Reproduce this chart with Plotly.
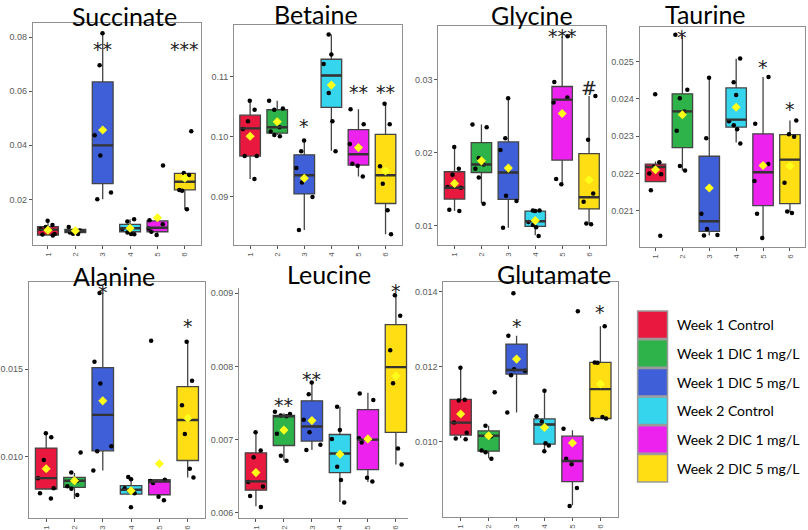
import plotly.graph_objects as go

# ---------------- data ----------------
group_ticks = ["1", "2", "3", "4", "5", "6"]
group_names = ["Week 1 Control", "Week 1 DIC 1 mg/L", "Week 1 DIC 5 mg/L",
               "Week 2 Control", "Week 2 DIC 1 mg/L", "Week 2 DIC 5 mg/L"]
group_colors = ["#E8183F", "#2DB34A", "#3F5FD8", "#35D5EE", "#EE22EE", "#FFDF14"]

# Succinate
succinate_q1 = [0.0068, 0.0077, 0.0258, 0.0080, 0.0080, 0.0235]
succinate_median = [0.0088, 0.0083, 0.0400, 0.0093, 0.0095, 0.0265]
succinate_q3 = [0.0099, 0.0089, 0.0635, 0.0107, 0.0120, 0.0296]
succinate_lo = [0.0066, 0.0072, 0.0200, 0.0068, 0.0068, 0.0163]
succinate_hi = [0.0121, 0.0098, 0.0815, 0.0126, 0.0123, 0.0298]
succinate_mean = [0.0086, 0.0084, 0.0457, 0.0093, 0.0132, 0.0278]
succinate_points = [
    [0.0066, 0.0070, 0.0072, 0.0090, 0.0098, 0.0105, 0.0121],
    [0.0098, 0.0085, 0.0083, 0.0080, 0.0077, 0.0073, 0.0072],
    [0.0815, 0.0697, 0.0437, 0.0362, 0.0225, 0.0200],
    [0.0126, 0.0118, 0.0095, 0.0090, 0.0077, 0.0072, 0.0071],
    [0.0325, 0.0123, 0.0108, 0.0092, 0.0080, 0.0068],
    [0.0452, 0.0298, 0.0290, 0.0235, 0.0232, 0.0163],
]
succinate_sig = [(3, "**", 0.0765), (6, "***", 0.0765)]

# Betaine
betaine_q1 = [0.0968, 0.1006, 0.0905, 0.1049, 0.0953, 0.0889]
betaine_median = [0.1014, 0.1016, 0.0936, 0.1102, 0.0971, 0.0936]
betaine_q3 = [0.1036, 0.1045, 0.0970, 0.1129, 0.1012, 0.1004]
betaine_lo = [0.0930, 0.1003, 0.0845, 0.0977, 0.0934, 0.0838]
betaine_hi = [0.1060, 0.1060, 0.0994, 0.1170, 0.1046, 0.1055]
betaine_mean = [0.1001, 0.1025, 0.0931, 0.1086, 0.0982, 0.0943]
betaine_points = [
    [0.1060, 0.1045, 0.1026, 0.1013, 0.0968, 0.0968, 0.0930],
    [0.1060, 0.1047, 0.1045, 0.1016, 0.1009, 0.1003, 0.1001],
    [0.0994, 0.0976, 0.0948, 0.0924, 0.0900, 0.0845],
    [0.1170, 0.1137, 0.1121, 0.1073, 0.1026, 0.0976],
    [0.1046, 0.1021, 0.0988, 0.0955, 0.0952, 0.0934],
    [0.1055, 0.1021, 0.0951, 0.0922, 0.0878, 0.0838],
]
betaine_sig = [(3, "*", 0.1021), (5, "**", 0.1078), (6, "**", 0.1078)]

# Glycine
glycine_q1 = [0.01365, 0.0173, 0.0136, 0.0099, 0.0190, 0.0123]
glycine_median = [0.0152, 0.0184, 0.0173, 0.0106, 0.0273, 0.0139]
glycine_q3 = [0.0174, 0.0214, 0.0215, 0.0120, 0.0291, 0.0199]
glycine_lo = [0.0120, 0.0131, 0.0097, 0.0087, 0.0156, 0.0103]
glycine_hi = [0.0208, 0.0239, 0.0275, 0.0121, 0.0360, 0.0278]
glycine_mean = [0.0158, 0.0189, 0.0179, 0.0107, 0.0254, 0.0163]
glycine_points = [
    [0.0208, 0.0178, 0.0170, 0.0153, 0.0152, 0.0122, 0.0120],
    [0.0239, 0.0235, 0.0193, 0.0184, 0.0178, 0.0166, 0.0130],
    [0.0275, 0.0220, 0.0204, 0.0141, 0.0134, 0.0097],
    [0.0121, 0.0120, 0.0121, 0.0105, 0.0101, 0.0098, 0.0086],
    [0.0360, 0.0297, 0.0276, 0.0269, 0.0164, 0.0157],
    [0.0278, 0.0218, 0.0144, 0.0133, 0.0103, 0.0102],
]
glycine_sig = [(5, "***", 0.0363), (6, "#", 0.0291)]

# Taurine
taurine_q1 = [0.02178, 0.02269, 0.02045, 0.02324, 0.02114, 0.02119]
taurine_median = [0.02217, 0.02366, 0.02072, 0.02344, 0.02203, 0.02237]
taurine_q3 = [0.02225, 0.02413, 0.02246, 0.02429, 0.02306, 0.02304]
taurine_lo = [0.02178, 0.02208, 0.02034, 0.02283, 0.02030, 0.02096]
taurine_hi = [0.02232, 0.02571, 0.02455, 0.02507, 0.02458, 0.02342]
taurine_mean = [0.02210, 0.02357, 0.02161, 0.02377, 0.02221, 0.02220]
taurine_points = [
    [0.02412, 0.02230, 0.02218, 0.02200, 0.02198, 0.02155, 0.02033],
    [0.02571, 0.02424, 0.02401, 0.02366, 0.02314, 0.02220, 0.02208],
    [0.02456, 0.02294, 0.02092, 0.02051, 0.02035, 0.02034],
    [0.02508, 0.02444, 0.02410, 0.02340, 0.02329, 0.02318, 0.02280],
    [0.02458, 0.02333, 0.02225, 0.02180, 0.02092, 0.02027],
    [0.02342, 0.02305, 0.02298, 0.02175, 0.02098, 0.02094],
]
taurine_sig = [(2, "*", 0.02571), (5, "*", 0.0249), (6, "*", 0.02377)]

# Alanine
alanine_q1 = [0.00814, 0.00823, 0.01032, 0.00785, 0.00781, 0.00977]
alanine_median = [0.00876, 0.00861, 0.01238, 0.00810, 0.00857, 0.01209]
alanine_q3 = [0.01048, 0.00880, 0.01508, 0.00833, 0.00867, 0.01399]
alanine_lo = [0.00814, 0.00757, 0.00920, 0.00785, 0.00781, 0.00880]
alanine_hi = [0.01133, 0.00905, 0.01937, 0.00882, 0.00867, 0.01656]
alanine_mean = [0.00930, 0.00861, 0.01318, 0.00804, 0.00958, 0.01219]
alanine_points = [
    [0.01133, 0.01110, 0.00980, 0.00876, 0.00818, 0.00790, 0.00760],
    [0.01023, 0.00908, 0.00860, 0.00830, 0.00815, 0.00780],
    [0.01935, 0.01542, 0.01418, 0.01058, 0.01030, 0.00920],
    [0.00882, 0.00870, 0.00818, 0.00806, 0.00800, 0.00790, 0.00710],
    [0.01662, 0.00867, 0.00860, 0.00848, 0.00770, 0.00750],
    [0.01656, 0.01433, 0.01293, 0.01128, 0.00930, 0.00880],
]
alanine_sig = [(3, "*", 0.01954), (6, "*", 0.01757)]

# Leucine
leucine_q1 = [0.00631, 0.00692, 0.00698, 0.00655, 0.00659, 0.00710]
leucine_median = [0.00643, 0.00732, 0.00718, 0.00681, 0.00700, 0.00799]
leucine_q3 = [0.00682, 0.00733, 0.00753, 0.00707, 0.00741, 0.00857]
leucine_lo = [0.00609, 0.00671, 0.00686, 0.00615, 0.00642, 0.00666]
leucine_hi = [0.00710, 0.00736, 0.00777, 0.00745, 0.00764, 0.00898]
leucine_mean = [0.00655, 0.00713, 0.00726, 0.00680, 0.00701, 0.00787]
leucine_points = [
    [0.00710, 0.00685, 0.00676, 0.00642, 0.00636, 0.00623, 0.00608],
    [0.00738, 0.00735, 0.00733, 0.00732, 0.00708, 0.00678, 0.00671],
    [0.00778, 0.00762, 0.00727, 0.00710, 0.00693, 0.00686],
    [0.00745, 0.00713, 0.00701, 0.00663, 0.00645, 0.00614],
    [0.00763, 0.00754, 0.00702, 0.00696, 0.00648, 0.00643],
    [0.00897, 0.00869, 0.00822, 0.00777, 0.00688, 0.00666],
]
leucine_sig = [(2, "**", 0.0075), (3, "**", 0.00785), (6, "*", 0.00905)]

# Glutamate
glutamate_q1 = [0.01018, 0.00975, 0.01180, 0.00994, 0.00894, 0.01062]
glutamate_median = [0.01051, 0.01016, 0.01191, 0.01046, 0.00949, 0.01140]
glutamate_q3 = [0.01113, 0.01029, 0.01260, 0.01061, 0.01015, 0.01211]
glutamate_lo = [0.01010, 0.00956, 0.01078, 0.00976, 0.00831, 0.01062]
glutamate_hi = [0.01198, 0.01043, 0.01282, 0.01136, 0.01031, 0.01307]
glutamate_mean = [0.01074, 0.01016, 0.01220, 0.01038, 0.00997, 0.01154]
glutamate_points = [
    [0.01197, 0.01112, 0.01110, 0.01051, 0.01024, 0.01009, 0.01007],
    [0.01132, 0.01043, 0.01015, 0.00977, 0.00972, 0.00955],
    [0.01395, 0.01282, 0.01193, 0.01189, 0.01177, 0.01078],
    [0.01136, 0.01068, 0.01054, 0.00996, 0.00990, 0.00975],
    [0.01347, 0.01035, 0.00955, 0.00940, 0.00877, 0.00829],
    [0.01307, 0.01211, 0.01210, 0.01066, 0.01062, 0.01060],
]
glutamate_sig = [(3, "*", 0.01313), (6, "*", 0.01351)]

# ---------------- layout / style ----------------
FW, FH = 808, 530


def fx(px):
    return px / FW


def fy(py):
    return 1 - py / FH


panels = [
    dict(title="Succinate", q1=succinate_q1, med=succinate_median, q3=succinate_q3,
         lo=succinate_lo, hi=succinate_hi, mean=succinate_mean, pts=succinate_points,
         sig=succinate_sig, frame=(30, 199, 23, 245), xr=(0.45, 6.6), yr=(0.0031, 0.0853),
         ticks=[0.02, 0.04, 0.06, 0.08], fmt=".2f", tpos=(122, 16), mirror=True),
    dict(title="Betaine", q1=betaine_q1, med=betaine_median, q3=betaine_q3,
         lo=betaine_lo, hi=betaine_hi, mean=betaine_mean, pts=betaine_points,
         sig=betaine_sig, frame=(232, 400, 25, 245), xr=(0.41, 6.59), yr=(0.082, 0.1186),
         ticks=[0.09, 0.10, 0.11], fmt=".2f", tpos=(314, 14), mirror=True),
    dict(title="Glycine", q1=glycine_q1, med=glycine_median, q3=glycine_q3,
         lo=glycine_lo, hi=glycine_hi, mean=glycine_mean, pts=glycine_points,
         sig=glycine_sig, frame=(437, 605, 26, 245), xr=(0.4, 6.62), yr=(0.00735, 0.0374),
         ticks=[0.01, 0.02, 0.03], fmt=".2f", tpos=(531, 15), mirror=True),
    dict(title="Taurine", q1=taurine_q1, med=taurine_median, q3=taurine_q3,
         lo=taurine_lo, hi=taurine_hi, mean=taurine_mean, pts=taurine_points,
         sig=taurine_sig, frame=(639, 805, 27, 247), xr=(0.41, 6.56), yr=(0.02003, 0.02592),
         ticks=[0.021, 0.022, 0.023, 0.024, 0.025], fmt=".3f", tpos=(705, 14), mirror=True),
    dict(title="Alanine", q1=alanine_q1, med=alanine_median, q3=alanine_q3,
         lo=alanine_lo, hi=alanine_hi, mean=alanine_mean, pts=alanine_points,
         sig=alanine_sig, frame=(26, 203, 282, 518), xr=(0.39, 6.62), yr=(0.00648, 0.01998),
         ticks=[0.010, 0.015], fmt=".3f", tpos=(111, 276), mirror=True),
    dict(title="Leucine", q1=leucine_q1, med=leucine_median, q3=leucine_q3,
         lo=leucine_lo, hi=leucine_hi, mean=leucine_mean, pts=leucine_points,
         sig=leucine_sig, frame=(237, 407, 288, 518), xr=(0.4, 6.45), yr=(0.00593, 0.00907),
         ticks=[0.006, 0.007, 0.008, 0.009], fmt=".3f", tpos=(327, 274), mirror=False),
    dict(title="Glutamate", q1=glutamate_q1, med=glutamate_median, q3=glutamate_q3,
         lo=glutamate_lo, hi=glutamate_hi, mean=glutamate_mean, pts=glutamate_points,
         sig=glutamate_sig, frame=(442, 617, 282, 517), xr=(0.38, 6.62), yr=(0.008, 0.01425),
         ticks=[0.010, 0.012, 0.014], fmt=".3f", tpos=(553, 274), mirror=True),
]

BOX_W = 0.76
EDGE = "#444444"
FRAME = "#8f8f8f"
TITLE_FONT = dict(family="Lato, Noto Sans, sans-serif", size=25, color="black")
TICK_FONT = dict(family="Liberation Sans, Arial, sans-serif", size=9, color="#5a5a5a")

fig = go.Figure()
layout = dict(width=FW, height=FH, margin=dict(l=0, r=0, t=0, b=0),
              paper_bgcolor="white", plot_bgcolor="white",
              showlegend=False, boxmode="overlay")
annotations = []
shapes = []

for i, p in enumerate(panels, start=1):
    xa = "x" if i == 1 else f"x{i}"
    ya = "y" if i == 1 else f"y{i}"
    xkey = "xaxis" if i == 1 else f"xaxis{i}"
    ykey = "yaxis" if i == 1 else f"yaxis{i}"
    L, R, T, B = p["frame"]

    # boxes from summary statistics
    for g in range(6):
        fig.add_trace(go.Box(
            x=[g + 1], q1=[p["q1"][g]], median=[p["med"][g]], q3=[p["q3"][g]],
            lowerfence=[p["lo"][g]], upperfence=[p["hi"][g]],
            fillcolor=group_colors[g], line=dict(color=EDGE, width=1.3),
            width=BOX_W, whiskerwidth=0, boxpoints=False,
            xaxis=xa, yaxis=ya, hoverinfo="skip"))

    # thicker median bars (ggplot style), spanning each box's width
    mx, my = [], []
    for g in range(6):
        mx += [g + 1 - BOX_W / 2, g + 1 + BOX_W / 2, None]
        my += [p["med"][g], p["med"][g], None]
    fig.add_trace(go.Scatter(x=mx, y=my, mode="lines", line=dict(color="#333333", width=2.4),
                             xaxis=xa, yaxis=ya, hoverinfo="skip"))

    # jittered sample points (invisible box, points only)
    px = [g + 1 for g, vals in enumerate(p["pts"]) for _ in vals]
    py = [v for vals in p["pts"] for v in vals]
    fig.add_trace(go.Box(
        x=px, y=py, boxpoints="all", jitter=0.9, pointpos=0,
        marker=dict(color="black", size=4.5),
        line=dict(width=0, color="rgba(0,0,0,0)"), fillcolor="rgba(0,0,0,0)",
        width=BOX_W, whiskerwidth=0, xaxis=xa, yaxis=ya, hoverinfo="y"))

    # group means
    fig.add_trace(go.Scatter(
        x=[g + 1 for g in range(6)], y=p["mean"], mode="markers",
        marker=dict(symbol="diamond", color="#FFFF1A", size=7, line=dict(width=0)),
        xaxis=xa, yaxis=ya, hoverinfo="y"))

    layout[xkey] = dict(domain=[fx(L), fx(R)], range=list(p["xr"]), anchor=ya,
                        tickmode="array", tickvals=[1, 2, 3, 4, 5, 6], ticktext=group_ticks,
                        tickangle=-90, tickfont=dict(TICK_FONT, size=8),
                        ticks="outside", ticklen=3, tickcolor="#555",
                        showline=True, linecolor=FRAME, linewidth=1.2,
                        mirror=p["mirror"], showgrid=False, zeroline=False)
    layout[ykey] = dict(domain=[fy(B), fy(T)], range=list(p["yr"]), anchor=xa,
                        tickmode="array", tickvals=p["ticks"], tickformat=p["fmt"],
                        tickfont=TICK_FONT, ticks="outside", ticklen=3, tickcolor="#555",
                        showline=True, linecolor=FRAME, linewidth=1.2,
                        mirror=p["mirror"], showgrid=False, zeroline=False)

    # panel title
    annotations.append(dict(x=fx(p["tpos"][0]), y=fy(p["tpos"][1]), xref="paper", yref="paper",
                            text=p["title"], showarrow=False, font=TITLE_FONT,
                            xanchor="center", yanchor="middle"))
    # significance marks
    for g, txt, yv in p["sig"]:
        annotations.append(dict(x=g, y=yv, xref=xa, yref=ya, text=txt, showarrow=False,
                                font=dict(family="DejaVu Sans, sans-serif", size=19, color="#222"),
                                xanchor="center", yanchor="middle", yshift=-2))

# legend (drawn as swatches + labels)
LEG_X0, LEG_X1, LEG_Y0, LEG_STEP, LEG_H = 637, 667, 311, 28.7, 27.5
for k, (name, col) in enumerate(zip(group_names, group_colors)):
    y0 = LEG_Y0 + k * LEG_STEP
    shapes.append(dict(type="rect", xref="paper", yref="paper",
                       x0=fx(LEG_X0), x1=fx(LEG_X1), y0=fy(y0 + LEG_H), y1=fy(y0),
                       fillcolor=col, line=dict(color="#9a9a9a", width=1.5)))
    annotations.append(dict(x=fx(675), y=fy(y0 + LEG_H / 2), xref="paper", yref="paper",
                            text=name, showarrow=False, xanchor="left", yanchor="middle",
                            font=dict(family="Lato, Noto Sans, sans-serif", size=14, color="black")))

layout["annotations"] = annotations
layout["shapes"] = shapes
fig.update_layout(**layout)
fig.write_html("out.html", config={"displayModeBar": False},
               post_script="document.body.style.margin='0';document.body.style.overflow='hidden';")
